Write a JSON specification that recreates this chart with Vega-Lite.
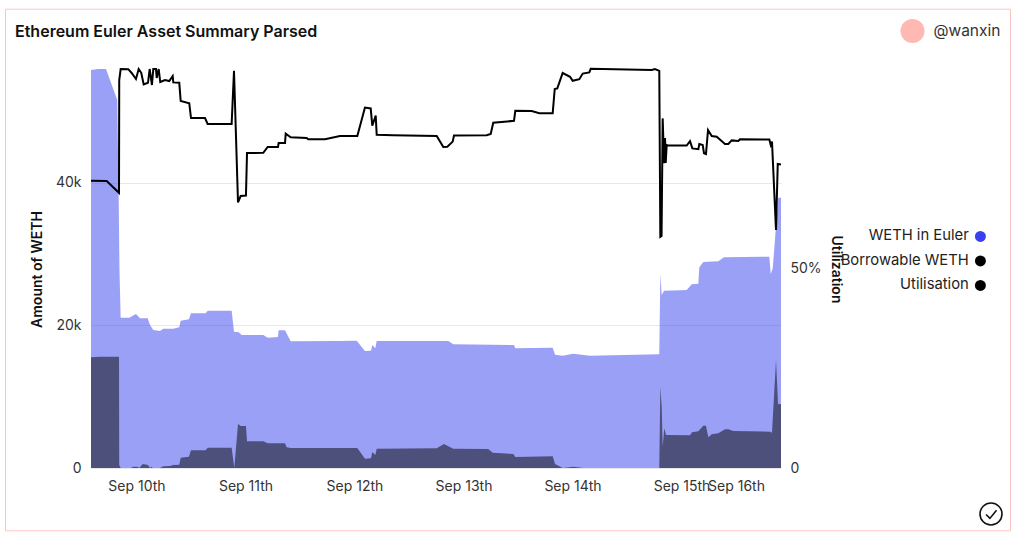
{
  "$schema": "https://vega.github.io/schema/vega-lite/v6.json",
  "width": 690,
  "height": 406,
  "autosize": "none",
  "padding": {"left": 91, "top": 62, "right": 243, "bottom": 70},
  "background": "white",
  "title": {"text": "Ethereum Euler Asset Summary Parsed", "anchor": "start", "frame": "group", "dx": -76, "offset": -21, "font": "Inter", "fontSize": 16, "fontWeight": 600, "color": "#111111"},
  "config": {
    "font": "Inter",
    "view": {"stroke": null},
    "axis": {"labelFont": "Inter", "labelFontSize": 14, "labelColor": "#333333", "titleFont": "Inter", "titleFontSize": 14, "titleFontWeight": 600, "titleColor": "#111111", "ticks": false, "domain": false}
  },
  "datasets": {
    "weth": [
      {"time": "2022-09-10T01:46Z", "weth": 55860}, {"time": "2022-09-10T03:18Z", "weth": 56000}, {"time": "2022-09-10T05:04Z", "weth": 56000},
      {"time": "2022-09-10T07:33Z", "weth": 51650}, {"time": "2022-09-10T07:52Z", "weth": 37610}, {"time": "2022-09-10T08:02Z", "weth": 27790},
      {"time": "2022-09-10T08:18Z", "weth": 21090}, {"time": "2022-09-10T10:12Z", "weth": 21090}, {"time": "2022-09-10T11:40Z", "weth": 21610},
      {"time": "2022-09-10T12:33Z", "weth": 21010}, {"time": "2022-09-10T14:15Z", "weth": 21010}, {"time": "2022-09-10T14:45Z", "weth": 20070},
      {"time": "2022-09-10T15:29Z", "weth": 19370}, {"time": "2022-09-10T16:57Z", "weth": 19230}, {"time": "2022-09-10T17:41Z", "weth": 19550},
      {"time": "2022-09-10T19:53Z", "weth": 19550}, {"time": "2022-09-10T21:12Z", "weth": 19750}, {"time": "2022-09-10T21:31Z", "weth": 20670},
      {"time": "2022-09-10T23:20Z", "weth": 20870}, {"time": "2022-09-10T23:47Z", "weth": 21710}, {"time": "2022-09-11T03:01Z", "weth": 21710},
      {"time": "2022-09-11T03:27Z", "weth": 22080}, {"time": "2022-09-11T08:44Z", "weth": 22080}, {"time": "2022-09-11T09:15Z", "weth": 19130},
      {"time": "2022-09-11T10:17Z", "weth": 19050}, {"time": "2022-09-11T10:57Z", "weth": 18670}, {"time": "2022-09-11T15:42Z", "weth": 18670},
      {"time": "2022-09-11T16:40Z", "weth": 18290}, {"time": "2022-09-11T18:56Z", "weth": 18390}, {"time": "2022-09-11T19:05Z", "weth": 19330},
      {"time": "2022-09-11T20:29Z", "weth": 19330}, {"time": "2022-09-11T21:44Z", "weth": 17780}, {"time": "2022-09-12T08:35Z", "weth": 17820},
      {"time": "2022-09-12T12:16Z", "weth": 17870}, {"time": "2022-09-12T14:05Z", "weth": 16420}, {"time": "2022-09-12T15:25Z", "weth": 16460},
      {"time": "2022-09-12T15:42Z", "weth": 17260}, {"time": "2022-09-12T16:22Z", "weth": 16800}, {"time": "2022-09-12T16:40Z", "weth": 17820},
      {"time": "2022-09-13T08:26Z", "weth": 17820}, {"time": "2022-09-13T09:32Z", "weth": 17360}, {"time": "2022-09-13T22:54Z", "weth": 17260},
      {"time": "2022-09-13T23:11Z", "weth": 16800}, {"time": "2022-09-14T07:25Z", "weth": 16880}, {"time": "2022-09-14T07:56Z", "weth": 15900},
      {"time": "2022-09-14T09:37Z", "weth": 15760}, {"time": "2022-09-14T11:57Z", "weth": 16040}, {"time": "2022-09-14T15:38Z", "weth": 15760},
      {"time": "2022-09-15T06:53Z", "weth": 15960}, {"time": "2022-09-15T07:07Z", "weth": 27230}, {"time": "2022-09-15T07:25Z", "weth": 24280},
      {"time": "2022-09-15T07:56Z", "weth": 24880}, {"time": "2022-09-15T11:27Z", "weth": 24940}, {"time": "2022-09-15T12:55Z", "weth": 24980},
      {"time": "2022-09-15T14:02Z", "weth": 25780}, {"time": "2022-09-15T15:29Z", "weth": 25870}, {"time": "2022-09-15T15:42Z", "weth": 28170},
      {"time": "2022-09-15T16:35Z", "weth": 28910}, {"time": "2022-09-15T19:53Z", "weth": 29010}, {"time": "2022-09-15T21:08Z", "weth": 29570},
      {"time": "2022-09-16T07:07Z", "weth": 29660}, {"time": "2022-09-16T07:25Z", "weth": 27230}, {"time": "2022-09-16T07:52Z", "weth": 28030},
      {"time": "2022-09-16T08:35Z", "weth": 33870}, {"time": "2022-09-16T09:05Z", "weth": 37940}, {"time": "2022-09-16T09:41Z", "weth": 37940}
    ],
    "borrowable": [
      {"time": "2022-09-10T01:46Z", "borrowable": 15540}, {"time": "2022-09-10T03:44Z", "borrowable": 15620}, {"time": "2022-09-10T07:56Z", "borrowable": 15620},
      {"time": "2022-09-10T07:59Z", "borrowable": 420}, {"time": "2022-09-10T08:18Z", "borrowable": 0}, {"time": "2022-09-10T10:30Z", "borrowable": 0},
      {"time": "2022-09-10T11:05Z", "borrowable": 180}, {"time": "2022-09-10T11:57Z", "borrowable": 180}, {"time": "2022-09-10T12:24Z", "borrowable": 0},
      {"time": "2022-09-10T13:09Z", "borrowable": 560}, {"time": "2022-09-10T14:19Z", "borrowable": 420}, {"time": "2022-09-10T14:45Z", "borrowable": 0},
      {"time": "2022-09-10T15:08Z", "borrowable": 180}, {"time": "2022-09-10T15:21Z", "borrowable": 0}, {"time": "2022-09-10T16:57Z", "borrowable": 0},
      {"time": "2022-09-10T17:41Z", "borrowable": 240}, {"time": "2022-09-10T19:09Z", "borrowable": 280}, {"time": "2022-09-10T19:53Z", "borrowable": 420},
      {"time": "2022-09-10T21:12Z", "borrowable": 460}, {"time": "2022-09-10T21:31Z", "borrowable": 1450}, {"time": "2022-09-10T23:20Z", "borrowable": 1590},
      {"time": "2022-09-10T23:47Z", "borrowable": 2480}, {"time": "2022-09-11T03:01Z", "borrowable": 2480}, {"time": "2022-09-11T03:27Z", "borrowable": 2850},
      {"time": "2022-09-11T08:44Z", "borrowable": 2850}, {"time": "2022-09-11T09:19Z", "borrowable": 0}, {"time": "2022-09-11T10:08Z", "borrowable": 6180},
      {"time": "2022-09-11T10:43Z", "borrowable": 5890}, {"time": "2022-09-11T11:53Z", "borrowable": 5890}, {"time": "2022-09-11T12:07Z", "borrowable": 3750},
      {"time": "2022-09-11T15:42Z", "borrowable": 3750}, {"time": "2022-09-11T16:40Z", "borrowable": 3470}, {"time": "2022-09-11T20:29Z", "borrowable": 3470},
      {"time": "2022-09-11T20:51Z", "borrowable": 2910}, {"time": "2022-09-11T21:44Z", "borrowable": 2810}, {"time": "2022-09-12T12:24Z", "borrowable": 2810},
      {"time": "2022-09-12T14:05Z", "borrowable": 1310}, {"time": "2022-09-12T15:25Z", "borrowable": 1360}, {"time": "2022-09-12T15:42Z", "borrowable": 2250},
      {"time": "2022-09-12T16:22Z", "borrowable": 1820}, {"time": "2022-09-12T16:40Z", "borrowable": 2710}, {"time": "2022-09-13T05:53Z", "borrowable": 2760},
      {"time": "2022-09-13T07:29Z", "borrowable": 3370}, {"time": "2022-09-13T09:32Z", "borrowable": 2710}, {"time": "2022-09-13T17:14Z", "borrowable": 2670},
      {"time": "2022-09-13T18:13Z", "borrowable": 2150}, {"time": "2022-09-13T22:45Z", "borrowable": 1960}, {"time": "2022-09-13T23:11Z", "borrowable": 1540},
      {"time": "2022-09-14T07:25Z", "borrowable": 1640}, {"time": "2022-09-14T07:56Z", "borrowable": 560}, {"time": "2022-09-14T09:37Z", "borrowable": 0},
      {"time": "2022-09-14T11:57Z", "borrowable": 180}, {"time": "2022-09-14T14:10Z", "borrowable": 0}, {"time": "2022-09-15T06:53Z", "borrowable": 0},
      {"time": "2022-09-15T07:07Z", "borrowable": 11410}, {"time": "2022-09-15T07:25Z", "borrowable": 8600}, {"time": "2022-09-15T07:38Z", "borrowable": 2990},
      {"time": "2022-09-15T07:59Z", "borrowable": 5570}, {"time": "2022-09-15T08:22Z", "borrowable": 4630}, {"time": "2022-09-15T13:39Z", "borrowable": 4590},
      {"time": "2022-09-15T14:05Z", "borrowable": 5010}, {"time": "2022-09-15T15:29Z", "borrowable": 5150}, {"time": "2022-09-15T16:35Z", "borrowable": 5940},
      {"time": "2022-09-15T17:10Z", "borrowable": 5940}, {"time": "2022-09-15T17:41Z", "borrowable": 4310}, {"time": "2022-09-15T18:26Z", "borrowable": 4730},
      {"time": "2022-09-15T19:53Z", "borrowable": 4870}, {"time": "2022-09-15T21:21Z", "borrowable": 5430}, {"time": "2022-09-15T22:05Z", "borrowable": 5430},
      {"time": "2022-09-15T23:11Z", "borrowable": 5190}, {"time": "2022-09-16T07:16Z", "borrowable": 5090}, {"time": "2022-09-16T07:42Z", "borrowable": 4950},
      {"time": "2022-09-16T08:35Z", "borrowable": 15160}, {"time": "2022-09-16T09:02Z", "borrowable": 8980}, {"time": "2022-09-16T09:41Z", "borrowable": 8940}
    ],
    "utilisation": [
      {"time": "2022-09-10T01:46Z", "utilisation": 0.718}, {"time": "2022-09-10T05:13Z", "utilisation": 0.7175}, {"time": "2022-09-10T07:56Z", "utilisation": 0.688},
      {"time": "2022-09-10T07:59Z", "utilisation": 0.97}, {"time": "2022-09-10T08:18Z", "utilisation": 0.9975}, {"time": "2022-09-10T09:58Z", "utilisation": 0.997},
      {"time": "2022-09-10T10:43Z", "utilisation": 0.9875}, {"time": "2022-09-10T11:40Z", "utilisation": 0.9725}, {"time": "2022-09-10T12:16Z", "utilisation": 0.9975},
      {"time": "2022-09-10T12:50Z", "utilisation": 0.988}, {"time": "2022-09-10T13:22Z", "utilisation": 0.959}, {"time": "2022-09-10T14:19Z", "utilisation": 0.963},
      {"time": "2022-09-10T14:41Z", "utilisation": 0.9975}, {"time": "2022-09-10T15:11Z", "utilisation": 0.9575}, {"time": "2022-09-10T15:29Z", "utilisation": 0.9975},
      {"time": "2022-09-10T16:04Z", "utilisation": 0.9975}, {"time": "2022-09-10T16:14Z", "utilisation": 0.975}, {"time": "2022-09-10T16:40Z", "utilisation": 0.9975},
      {"time": "2022-09-10T17:01Z", "utilisation": 0.965}, {"time": "2022-09-10T18:03Z", "utilisation": 0.97}, {"time": "2022-09-10T19:00Z", "utilisation": 0.9675},
      {"time": "2022-09-10T19:45Z", "utilisation": 0.98}, {"time": "2022-09-10T19:53Z", "utilisation": 0.964}, {"time": "2022-09-10T21:12Z", "utilisation": 0.963},
      {"time": "2022-09-10T21:31Z", "utilisation": 0.9175}, {"time": "2022-09-10T23:24Z", "utilisation": 0.912}, {"time": "2022-09-10T23:47Z", "utilisation": 0.875},
      {"time": "2022-09-11T02:52Z", "utilisation": 0.875}, {"time": "2022-09-11T03:27Z", "utilisation": 0.86}, {"time": "2022-09-11T08:44Z", "utilisation": 0.86},
      {"time": "2022-09-11T09:15Z", "utilisation": 0.993}, {"time": "2022-09-11T10:08Z", "utilisation": 0.664}, {"time": "2022-09-11T10:43Z", "utilisation": 0.68},
      {"time": "2022-09-11T11:53Z", "utilisation": 0.681}, {"time": "2022-09-11T12:07Z", "utilisation": 0.7875}, {"time": "2022-09-11T15:42Z", "utilisation": 0.788},
      {"time": "2022-09-11T16:40Z", "utilisation": 0.8025}, {"time": "2022-09-11T18:56Z", "utilisation": 0.8025}, {"time": "2022-09-11T19:05Z", "utilisation": 0.8125},
      {"time": "2022-09-11T20:29Z", "utilisation": 0.8125}, {"time": "2022-09-11T20:38Z", "utilisation": 0.836}, {"time": "2022-09-11T21:44Z", "utilisation": 0.827},
      {"time": "2022-09-12T01:15Z", "utilisation": 0.825}, {"time": "2022-09-12T01:36Z", "utilisation": 0.822}, {"time": "2022-09-12T05:17Z", "utilisation": 0.822},
      {"time": "2022-09-12T08:35Z", "utilisation": 0.83}, {"time": "2022-09-12T12:24Z", "utilisation": 0.83}, {"time": "2022-09-12T14:05Z", "utilisation": 0.901},
      {"time": "2022-09-12T15:21Z", "utilisation": 0.899}, {"time": "2022-09-12T15:42Z", "utilisation": 0.856}, {"time": "2022-09-12T16:27Z", "utilisation": 0.881},
      {"time": "2022-09-12T16:40Z", "utilisation": 0.833}, {"time": "2022-09-12T20:19Z", "utilisation": 0.832}, {"time": "2022-09-13T05:53Z", "utilisation": 0.83},
      {"time": "2022-09-13T07:20Z", "utilisation": 0.8025}, {"time": "2022-09-13T08:13Z", "utilisation": 0.803}, {"time": "2022-09-13T09:24Z", "utilisation": 0.816},
      {"time": "2022-09-13T09:41Z", "utilisation": 0.831}, {"time": "2022-09-13T16:53Z", "utilisation": 0.832}, {"time": "2022-09-13T17:46Z", "utilisation": 0.835},
      {"time": "2022-09-13T18:20Z", "utilisation": 0.863}, {"time": "2022-09-13T22:54Z", "utilisation": 0.868}, {"time": "2022-09-13T23:11Z", "utilisation": 0.893},
      {"time": "2022-09-14T02:48Z", "utilisation": 0.8925}, {"time": "2022-09-14T04:28Z", "utilisation": 0.887}, {"time": "2022-09-14T07:25Z", "utilisation": 0.887},
      {"time": "2022-09-14T07:52Z", "utilisation": 0.9475}, {"time": "2022-09-14T08:26Z", "utilisation": 0.949}, {"time": "2022-09-14T09:37Z", "utilisation": 0.9875},
      {"time": "2022-09-14T11:14Z", "utilisation": 0.978}, {"time": "2022-09-14T11:49Z", "utilisation": 0.968}, {"time": "2022-09-14T13:17Z", "utilisation": 0.972},
      {"time": "2022-09-14T14:02Z", "utilisation": 0.986}, {"time": "2022-09-14T15:29Z", "utilisation": 0.989}, {"time": "2022-09-14T15:47Z", "utilisation": 0.998},
      {"time": "2022-09-15T05:13Z", "utilisation": 0.995}, {"time": "2022-09-15T05:57Z", "utilisation": 0.9975}, {"time": "2022-09-15T06:53Z", "utilisation": 0.993},
      {"time": "2022-09-15T07:07Z", "utilisation": 0.578}, {"time": "2022-09-15T07:23Z", "utilisation": 0.58}, {"time": "2022-09-15T07:38Z", "utilisation": 0.874},
      {"time": "2022-09-15T07:56Z", "utilisation": 0.762}, {"time": "2022-09-15T08:09Z", "utilisation": 0.825}, {"time": "2022-09-15T08:18Z", "utilisation": 0.7625},
      {"time": "2022-09-15T08:31Z", "utilisation": 0.8075}, {"time": "2022-09-15T08:52Z", "utilisation": 0.806}, {"time": "2022-09-15T12:55Z", "utilisation": 0.806},
      {"time": "2022-09-15T13:39Z", "utilisation": 0.817}, {"time": "2022-09-15T14:10Z", "utilisation": 0.799}, {"time": "2022-09-15T15:29Z", "utilisation": 0.797},
      {"time": "2022-09-15T15:42Z", "utilisation": 0.81}, {"time": "2022-09-15T16:27Z", "utilisation": 0.8075}, {"time": "2022-09-15T16:44Z", "utilisation": 0.787},
      {"time": "2022-09-15T17:10Z", "utilisation": 0.785}, {"time": "2022-09-15T17:37Z", "utilisation": 0.845}, {"time": "2022-09-15T18:26Z", "utilisation": 0.83},
      {"time": "2022-09-15T19:32Z", "utilisation": 0.828}, {"time": "2022-09-15T21:21Z", "utilisation": 0.81}, {"time": "2022-09-15T22:05Z", "utilisation": 0.81},
      {"time": "2022-09-15T22:50Z", "utilisation": 0.819}, {"time": "2022-09-16T00:17Z", "utilisation": 0.8175}, {"time": "2022-09-16T00:40Z", "utilisation": 0.822},
      {"time": "2022-09-16T07:07Z", "utilisation": 0.821}, {"time": "2022-09-16T07:25Z", "utilisation": 0.8075}, {"time": "2022-09-16T07:42Z", "utilisation": 0.816},
      {"time": "2022-09-16T08:35Z", "utilisation": 0.595}, {"time": "2022-09-16T08:58Z", "utilisation": 0.76}, {"time": "2022-09-16T09:41Z", "utilisation": 0.759}
    ]
  },
  "encoding": {
    "x": {
      "field": "time",
      "type": "temporal",
      "title": null,
      "scale": {"type": "utc", "domain": ["2022-09-10T01:46Z", "2022-09-16T09:41Z"]},
      "axis": {
        "values": ["2022-09-10T12:00Z", "2022-09-11T12:00Z", "2022-09-12T12:00Z", "2022-09-13T12:00Z", "2022-09-14T12:00Z", "2022-09-15T12:00Z", "2022-09-16T00:00Z"],
        "format": "%b %-dth",
        "grid": false,
        "labelOverlap": false,
        "labelFlush": false,
        "labelBound": false,
        "labelPadding": 11,
        "labelOffset": -1
      }
    }
  },
  "layer": [
    {
      "encoding": {
        "y": {
          "type": "quantitative",
          "title": "Amount of WETH",
          "scale": {"domain": [0, 56982], "nice": false},
          "axis": {"values": [0, 20000, 40000], "labelExpr": "datum.value == 0 ? '0' : format(datum.value, '~s')", "grid": true, "gridColor": "#e8e8e8", "labelPadding": 10, "titlePadding": 11, "titleY": 207}
        },
        "color": {
          "datum": "WETH in Euler",
          "scale": {"domain": ["WETH in Euler", "Borrowable WETH", "Utilisation"], "range": ["#3741ef", "#000000", "#000000"]},
          "legend": {"orient": "none", "legendX": 882, "legendY": 167, "title": null, "symbolType": "circle", "symbolSize": 120, "symbolOpacity": 1, "symbolStrokeWidth": 0, "symbolFillColor": "#000000", "labelAlign": "right", "labelOffset": -19, "labelFont": "Inter", "labelFontSize": 14.8, "labelColor": "#222222", "rowPadding": 8.5, "labelLimit": 200}
        }
      },
      "layer": [
        {"data": {"name": "weth"}, "mark": {"type": "area", "opacity": 0.5}, "encoding": {"y": {"field": "weth", "type": "quantitative"}, "color": {"datum": "WETH in Euler"}}},
        {"data": {"name": "borrowable"}, "mark": {"type": "area", "opacity": 0.5}, "encoding": {"y": {"field": "borrowable", "type": "quantitative"}, "color": {"datum": "Borrowable WETH"}}}
      ]
    },
    {
      "data": {"name": "utilisation"},
      "mark": {"type": "line", "strokeWidth": 2},
      "encoding": {
        "y": {
          "field": "utilisation",
          "type": "quantitative",
          "title": "Utilization",
          "scale": {"domain": [0, 1.015], "nice": false},
          "axis": {"orient": "right", "values": [0, 0.5], "labelExpr": "datum.value == 0 ? '0' : format(datum.value, '.0%')", "grid": false, "labelPadding": 9, "titlePadding": 7, "titleY": 207}
        },
        "color": {"datum": "Utilisation"}
      }
    },
    {
      "data": {"values": []},
      "mark": {"type": "point", "filled": true, "color": "#ffb8b2"},
      "encoding": {
        "shape": {
          "datum": "@wanxin",
          "scale": {"domain": ["@wanxin"], "range": ["circle"]},
          "legend": {"orient": "none", "legendX": 809.5, "legendY": -43, "title": null, "symbolSize": 576, "symbolStrokeWidth": 0, "symbolOpacity": 1, "labelFont": "Inter", "labelFontSize": 15.5, "labelColor": "#333333", "labelOffset": 9}
        }
      }
    },
    {
      "data": {"values": []},
      "mark": {"type": "point"},
      "encoding": {
        "opacity": {
          "datum": "check",
          "scale": {"domain": ["check"], "range": [1]},
          "legend": {"orient": "none", "legendX": 888, "legendY": 440, "title": null, "symbolType": "M-1,0A1,1,0,1,1,1,0A1,1,0,1,1,-1,0ZM-0.45,0.05L-0.1,0.4L0.5,-0.35", "symbolSize": 484, "symbolFillColor": "transparent", "symbolStrokeColor": "#111111", "symbolStrokeWidth": 1.6, "labelExpr": "''"}
        },
        "strokeWidth": {
          "datum": "frame",
          "scale": {"domain": ["frame"], "range": [1.2]},
          "legend": {"orient": "none", "legendX": 417, "legendY": 208, "title": null, "symbolType": "M-1,-0.519L1,-0.519L1,0.519L-1,0.519Z", "symbolSize": 1010025, "symbolFillColor": "transparent", "symbolStrokeColor": "#f9c6c3", "symbolOpacity": 1, "labelExpr": "''"}
        }
      }
    }
  ],
  "resolve": {"scale": {"y": "independent"}}
}
